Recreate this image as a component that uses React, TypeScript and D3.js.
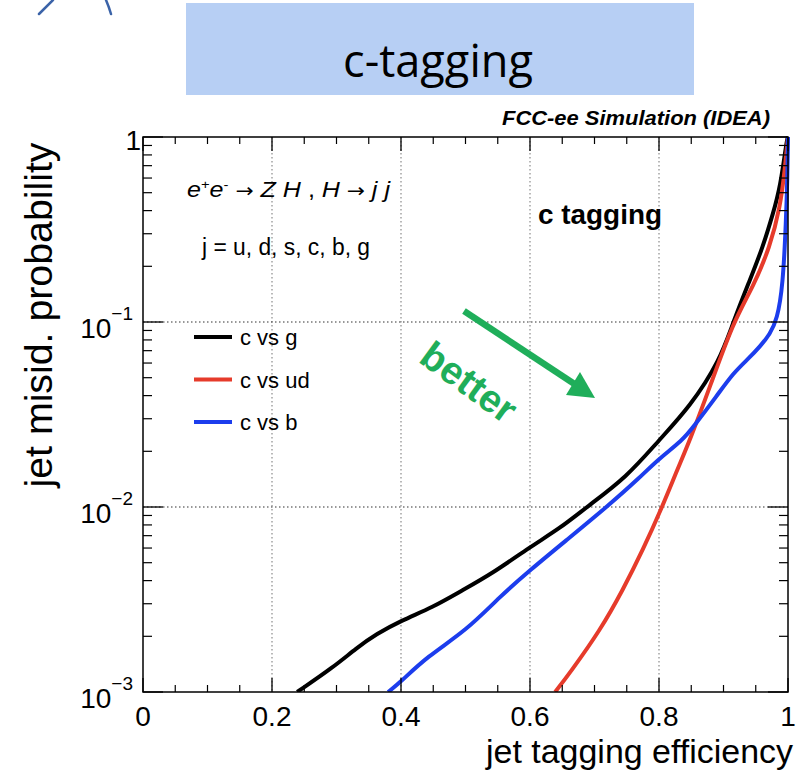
import React from 'react';
import * as d3 from 'd3';

// ---------- data ----------
const X_TICKS = [0, 0.2, 0.4, 0.6, 0.8, 1];
const X_TICK_LABELS = ['0', '0.2', '0.4', '0.6', '0.8', '1'];
const Y_DECADES = [1e-3, 1e-2, 1e-1, 1];
const Y_TICK_EXP = ['−3', '−2', '−1', ''];

const SERIES_NAMES = ['c vs g', 'c vs ud', 'c vs b'];
const SERIES_COLORS = ['#000000', '#e63b2b', '#1c3ded'];

const CVG_EFF = [0.239, 0.295, 0.331, 0.362, 0.400, 0.450, 0.491, 0.543, 0.600, 0.647, 0.688, 0.750, 0.800, 0.848, 0.895, 0.915, 0.941, 0.961, 0.977, 0.988, 0.998, 1.0];
const CVG_MISID = [1.0e-3, 1.36e-3, 1.73e-3, 2.06e-3, 2.43e-3, 2.88e-3, 3.48e-3, 4.40e-3, 6.08e-3, 7.69e-3, 1.0e-2, 1.45e-2, 2.30e-2, 3.48e-2, 6.24e-2, 0.1, 0.169, 0.254, 0.388, 0.537, 0.96, 1.0];

const CVUD_EFF = [0.639, 0.662, 0.709, 0.744, 0.775, 0.805, 0.828, 0.848, 0.879, 0.915, 0.946, 0.972, 0.988, 0.995, 1.0];
const CVUD_MISID = [1.0e-3, 1.27e-3, 2.16e-3, 3.56e-3, 5.86e-3, 1.0e-2, 1.58e-2, 2.30e-2, 4.46e-2, 0.1, 0.155, 0.254, 0.419, 0.664, 1.0];

const CVB_EFF = [0.380, 0.398, 0.440, 0.502, 0.553, 0.600, 0.657, 0.719, 0.771, 0.797, 0.837, 0.853, 0.890, 0.915, 0.940, 0.957, 0.972, 0.983, 0.992, 0.997, 0.999, 1.0];
const CVB_MISID = [1.0e-3, 1.12e-3, 1.55e-3, 2.16e-3, 3.27e-3, 4.56e-3, 6.64e-3, 1.0e-2, 1.45e-2, 1.79e-2, 2.30e-2, 2.70e-2, 4.0e-2, 5.30e-2, 6.4e-2, 7.4e-2, 8.6e-2, 0.103, 0.155, 0.356, 0.6, 1.0];

const SERIES = [
  { eff: CVG_EFF, misid: CVG_MISID },
  { eff: CVUD_EFF, misid: CVUD_MISID },
  { eff: CVB_EFF, misid: CVB_MISID },
];

// ---------- layout ----------
const W = 807;
const H = 775;
const L = 143, R = 788, T = 137, B = 692;
const GREEN = '#1fae5a';
const FONT = '"Liberation Sans", Arial, Helvetica, sans-serif';

export default function App() {
  const x = d3.scaleLinear().domain([0, 1]).range([L, R]);
  const y = d3.scaleLog().domain([1e-3, 1]).range([B, T]);

  const line = d3
    .line<[number, number]>()
    .x((d) => x(d[0]))
    .y((d) => y(d[1]))
    .curve(d3.curveBasis);

  const minorX = d3.range(0, 1.0001, 0.05).filter((v) => Math.abs(v * 5 - Math.round(v * 5)) > 1e-6);
  const minorY: number[] = [];
  [1e-3, 1e-2, 1e-1].forEach((dec) => {
    for (let k = 2; k <= 9; k++) minorY.push(dec * k);
  });

  return (
    <svg width={W} height={H} style={{ position: 'absolute', left: 0, top: 0, background: '#fff' }} fontFamily={FONT}>
      <rect x={0} y={0} width={W} height={H} fill="#fff" />
      {/* decorative strokes top-left */}
      <line x1={39} y1={14} x2={53} y2={0} stroke="#3b63a8" strokeWidth={2.5} strokeLinecap="round" />
      <path d="M106,0 Q109,7 111,14" fill="none" stroke="#3b63a8" strokeWidth={2.5} strokeLinecap="round" />

      {/* title box */}
      <rect x={186} y={3} width={508} height={92} fill="#b7cff4" />
      <text x={438} y={77} textAnchor="middle" fontFamily='"Open Sans", sans-serif' fontSize={46} fill="#000" textLength={190} lengthAdjust="spacingAndGlyphs">c-tagging</text>

      <text x={770} y={125} textAnchor="end" fontFamily={FONT} fontSize={20} fontWeight="bold" fontStyle="italic" fill="#000" textLength={268} lengthAdjust="spacingAndGlyphs">FCC-ee Simulation (IDEA)</text>

      {/* grid */}
      {X_TICKS.filter((v) => v > 0 && v < 1).map((v) => (
        <line key={'gx' + v} x1={x(v)} x2={x(v)} y1={T} y2={B} stroke="#8a8a8a" strokeWidth={1.2} strokeDasharray="1.5,2.5" />
      ))}
      {[1e-2, 1e-1].map((v) => (
        <line key={'gy' + v} x1={L} x2={R} y1={y(v)} y2={y(v)} stroke="#333" strokeWidth={1.2} strokeDasharray="1.5,2.5" />
      ))}

      {/* curves */}
      <defs>
        <clipPath id="plotclip">
          <rect x={L} y={T - 2} width={R - L + 2} height={B - T + 2} />
        </clipPath>
      </defs>
      <g clipPath="url(#plotclip)">
        {SERIES.map((s, i) => (
          <path
            key={'s' + i}
            d={line(s.eff.map((e, j) => [e, s.misid[j]] as [number, number])) || ''}
            fill="none"
            stroke={SERIES_COLORS[i]}
            strokeWidth={4}
            strokeLinejoin="round"
          />
        ))}
      </g>

      {/* frame */}
      <rect x={L} y={T} width={R - L} height={B - T} fill="none" stroke="#000" strokeWidth={1.5} />

      {/* x ticks bottom & top */}
      {X_TICKS.map((v) => (
        <g key={'xt' + v}>
          <line x1={x(v)} x2={x(v)} y1={B} y2={B - 14} stroke="#000" strokeWidth={1.3} />
          <line x1={x(v)} x2={x(v)} y1={T} y2={T + 14} stroke="#000" strokeWidth={1.3} />
        </g>
      ))}
      {minorX.map((v) => (
        <g key={'xm' + v}>
          <line x1={x(v)} x2={x(v)} y1={B} y2={B - 7} stroke="#000" strokeWidth={1.2} />
          <line x1={x(v)} x2={x(v)} y1={T} y2={T + 7} stroke="#000" strokeWidth={1.2} />
        </g>
      ))}
      {/* y ticks left & right */}
      {Y_DECADES.map((v) => (
        <g key={'yt' + v}>
          <line x1={L} x2={L + 20} y1={y(v)} y2={y(v)} stroke="#000" strokeWidth={1.3} />
          <line x1={R} x2={R - 20} y1={y(v)} y2={y(v)} stroke="#000" strokeWidth={1.3} />
        </g>
      ))}
      {minorY.map((v) => (
        <g key={'ym' + v}>
          <line x1={L} x2={L + 9} y1={y(v)} y2={y(v)} stroke="#000" strokeWidth={1.2} />
          <line x1={R} x2={R - 9} y1={y(v)} y2={y(v)} stroke="#000" strokeWidth={1.2} />
        </g>
      ))}

      {/* x tick labels */}
      {X_TICKS.map((v, i) => (
        <text key={'xl' + v} x={x(v)} y={726} textAnchor="middle" fontSize={28} fill="#000">
          {X_TICK_LABELS[i]}
        </text>
      ))}
      {/* y tick labels */}
      {Y_DECADES.map((v, i) =>
        Y_TICK_EXP[i] === '' ? (
          <text key={'yl' + v} x={141} y={y(v) + 13} textAnchor="end" fontSize={28} fill="#000">1</text>
        ) : (
          <text key={'yl' + v} x={133} y={y(v) + 16} textAnchor="end" fontSize={28} fill="#000">
            10<tspan dy={-18} fontSize={19}>{Y_TICK_EXP[i]}</tspan>
          </text>
        )
      )}

      {/* axis titles */}
      <text x={793} y={763} textAnchor="end" fontSize={34} fill="#000" textLength={307} lengthAdjust="spacingAndGlyphs">jet tagging efficiency</text>
      <text transform="translate(52,315) rotate(-90)" textAnchor="middle" fontSize={38} fill="#000" textLength={345} lengthAdjust="spacingAndGlyphs">jet misid. probability</text>

      {/* annotations */}
      <text x={187} y={197} fontSize={22} fill="#000" textLength={203} lengthAdjust="spacingAndGlyphs">
        <tspan fontStyle="italic">e</tspan>
        <tspan dy={-8} fontSize={13}>+</tspan>
        <tspan dy={8} fontStyle="italic">e</tspan>
        <tspan dy={-8} fontSize={13}>-</tspan>
        <tspan dy={8} fontFamily='"DejaVu Sans", sans-serif' fontSize={19}> → </tspan>
        <tspan fontStyle="italic">Z H</tspan>
        <tspan> , </tspan>
        <tspan fontStyle="italic">H</tspan>
        <tspan fontFamily='"DejaVu Sans", sans-serif' fontSize={19}> → </tspan>
        <tspan fontStyle="italic">j j</tspan>
      </text>
      <text x={202} y={255} fontSize={23} fill="#000" textLength={168} lengthAdjust="spacingAndGlyphs">j = u, d, s, c, b, g</text>
      <text x={538} y={224} fontSize={28} fontWeight="bold" fill="#000" textLength={124} lengthAdjust="spacingAndGlyphs">c tagging</text>

      {/* legend */}
      {SERIES_NAMES.map((n, i) => (
        <g key={'lg' + i}>
          <line x1={194} x2={232} y1={337 + i * 42.5} y2={337 + i * 42.5} stroke={SERIES_COLORS[i]} strokeWidth={4} />
          <text x={240} y={337 + i * 42.5 + 8} fontSize={22} fill="#000">{n}</text>
        </g>
      ))}

      {/* better arrow */}
      <line x1={464} y1={311} x2={576} y2={385} stroke={GREEN} strokeWidth={6.5} />
      <polygon points="595,398 566,395 580,372" fill={GREEN} />
      <text transform="translate(469,382) rotate(36)" textAnchor="middle" dy="0.35em" fontSize={39} fontWeight="bold" fill={GREEN}>better</text>
    </svg>
  );
}
